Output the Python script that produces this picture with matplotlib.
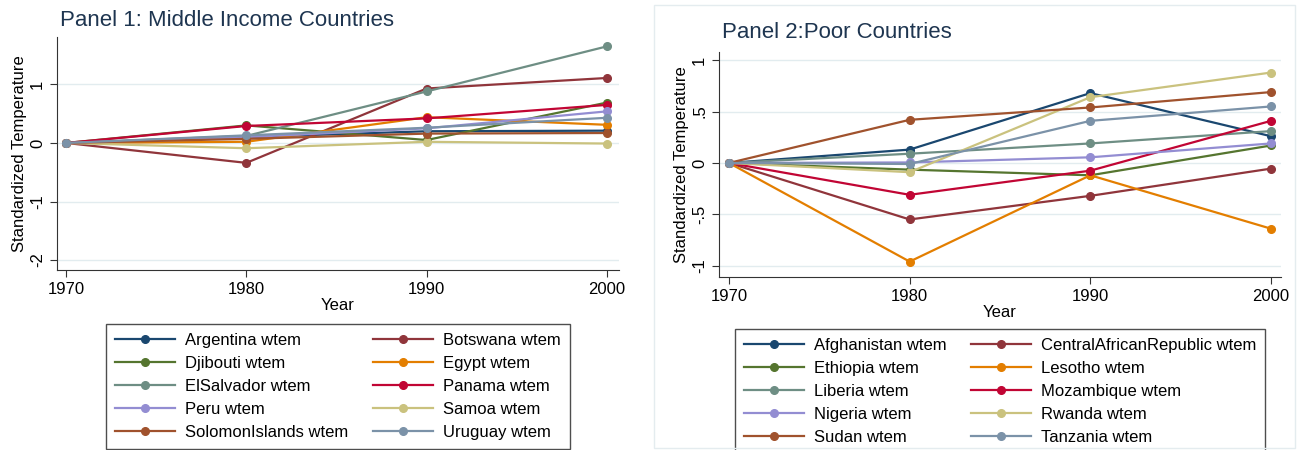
import matplotlib.pyplot as plt
from matplotlib.patches import Rectangle

plt.rcParams['font.family'] = ['Liberation Sans', 'DejaVu Sans']

years = [1970, 1980, 1990, 2000]

# Panel 1: middle income countries
mid_names = ['Argentina wtem', 'Botswana wtem', 'Djibouti wtem', 'Egypt wtem',
             'ElSalvador wtem', 'Panama wtem', 'Peru wtem', 'Samoa wtem',
             'SolomonIslands wtem', 'Uruguay wtem']
argentina = [0, 0.10, 0.20, 0.21]
botswana = [0, -0.34, 0.93, 1.11]
djibouti = [0, 0.30, 0.05, 0.69]
egypt = [0, 0.02, 0.44, 0.31]
elsalvador = [0, 0.12, 0.88, 1.65]
panama = [0, 0.29, 0.42, 0.65]
peru = [0, 0.10, 0.25, 0.54]
samoa = [0, -0.09, 0.02, -0.01]
solomon = [0, 0.07, 0.16, 0.17]
uruguay = [0, 0.13, 0.26, 0.43]
mid_series = [argentina, botswana, djibouti, egypt, elsalvador,
              panama, peru, samoa, solomon, uruguay]

# Panel 2: poor countries
poor_names = ['Afghanistan wtem', 'CentralAfricanRepublic wtem', 'Ethiopia wtem',
              'Lesotho wtem', 'Liberia wtem', 'Mozambique wtem', 'Nigeria wtem',
              'Rwanda wtem', 'Sudan wtem', 'Tanzania wtem']
afghanistan = [0, 0.13, 0.68, 0.26]
car = [0, -0.55, -0.32, -0.055]
ethiopia = [0, -0.065, -0.12, 0.17]
lesotho = [0, -0.96, -0.12, -0.64]
liberia = [0, 0.09, 0.19, 0.31]
mozambique = [0, -0.31, -0.075, 0.41]
nigeria = [0, 0.005, 0.055, 0.19]
rwanda = [0, -0.09, 0.64, 0.88]
sudan = [0, 0.42, 0.54, 0.69]
tanzania = [0, -0.01, 0.41, 0.55]
poor_series = [afghanistan, car, ethiopia, lesotho, liberia,
               mozambique, nigeria, rwanda, sudan, tanzania]

# stata s2color palette
colors = ['#1A476F', '#90353B', '#55752F', '#E37E00', '#6E8E84',
          '#C10534', '#938DD2', '#CAC27E', '#A0522D', '#7B92A8']

W, H = 1297, 450
fig = plt.figure(figsize=(W / 100, H / 100), dpi=100)


def px_axes(x0, y0, x1, y1):
    return fig.add_axes([x0 / W, 1 - y1 / H, (x1 - x0) / W, (y1 - y0) / H])


def draw_panel(ax, names, series, yticks, yticklabels, ylim, xlim):
    for name, vals, c in zip(names, series, colors):
        ax.plot(years, vals, color=c, lw=1.6, marker='o', ms=5.5, label=name)
    ax.set_xlim(*xlim)
    ax.set_ylim(*ylim)
    ax.set_xticks(years)
    ax.set_yticks(yticks)
    ax.set_yticklabels(yticklabels, rotation=90, va='center')
    for t in yticks:
        ax.axhline(t, color='#E2ECEF', lw=1, zorder=0)
    for s in ['top', 'right']:
        ax.spines[s].set_visible(False)
    for s in ['left', 'bottom']:
        ax.spines[s].set_color('#333333')
    ax.tick_params(labelsize=12, length=5, color='#333333')
    ax.set_ylabel('Standardized Temperature', fontsize=12, labelpad=2)
    ax.set_xlabel('Year', fontsize=12, labelpad=1)


def add_legend(ax, xc, ytop):
    # stata fills the legend row by row, matplotlib column by column
    handles, labels = ax.get_legend_handles_labels()
    order = list(range(0, 10, 2)) + list(range(1, 10, 2))
    leg = ax.legend([handles[i] for i in order], [labels[i] for i in order],
                    loc='upper center', bbox_to_anchor=(xc / W, 1 - ytop / H),
                    bbox_transform=fig.transFigure, ncol=2, fontsize=12,
                    frameon=True, fancybox=False, edgecolor='#222222',
                    handlelength=3.6, handletextpad=0.6, columnspacing=1.45,
                    labelspacing=0.48, borderpad=0.55, borderaxespad=0)
    leg.get_frame().set_linewidth(1)
    return leg


ax1 = px_axes(57, 37, 619, 270)
draw_panel(ax1, mid_names, mid_series, [-2, -1, 0, 1], ['-2', '-1', '0', '1'],
           (-2.17, 1.81), (1969.5, 2000.67))
fig.text(60 / W, 1 - 20 / H, 'Panel 1: Middle Income Countries', fontsize=16,
         color='#1E3550', va='center')
add_legend(ax1, 338, 324)

ax2 = px_axes(719, 52, 1281, 277)
draw_panel(ax2, poor_names, poor_series, [-1, -0.5, 0, 0.5, 1],
           ['-1', '-.5', '0', '.5', '1'], (-1.11, 1.08), (1969.45, 2000.55))
fig.text(722 / W, 1 - 33 / H, 'Panel 2:Poor Countries', fontsize=16,
         color='#1E3550', va='center')
add_legend(ax2, 1000, 329)

# faint frame around panel 2
fig.patches.append(Rectangle((654 / W, 2 / H), 641 / W, 443 / H,
                             transform=fig.transFigure, fill=False,
                             edgecolor='#E4ECEF', lw=1))

fig.savefig('out.png', dpi=100)
